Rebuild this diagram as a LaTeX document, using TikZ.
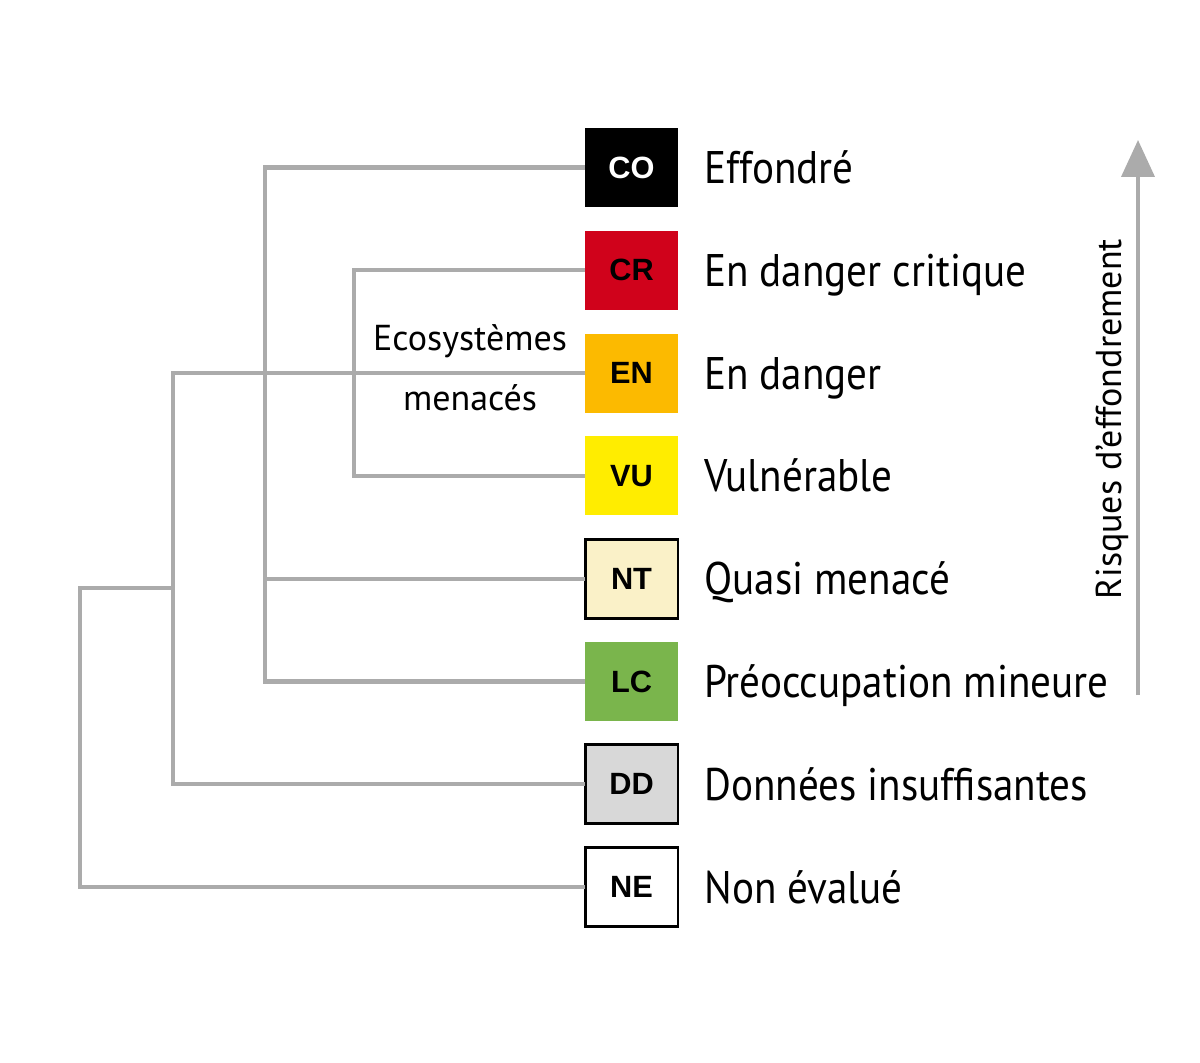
\documentclass[tikz,border=0pt]{standalone}
\usepackage{fontspec}
\setmainfont{PT Sans}
\newfontfamily\labelfont[FakeStretch=0.9]{PT Sans}
\newfontfamily\boxfont{Liberation Sans}
\usetikzlibrary{arrows.meta}
\definecolor{branchGray}{RGB}{171,171,171}
\definecolor{crRed}{RGB}{208,2,27}
\definecolor{enOrange}{RGB}{252,186,0}
\definecolor{vuYellow}{RGB}{255,237,0}
\definecolor{ntCream}{RGB}{250,241,200}
\definecolor{lcGreen}{RGB}{122,181,76}
\definecolor{ddGray}{RGB}{216,216,216}
\tikzstyle{redlist}=[%
	catBox/.style={%
		inner sep=0pt,
		outer sep=0pt,
		minimum width=1.86cm,
		minimum height=1.58cm,
		line width=1.7pt,
		font=\boxfont\bfseries\fontsize{17.5}{20}\selectfont
	},%
	catLabel/.style={%
		anchor=base west,
		inner sep=0pt,
		font=\labelfont\fontsize{26}{30}\selectfont
	},%
	branch/.style={%
		draw=branchGray,
		line width=2.3pt
	}
]

\begin{document}
\begin{tikzpicture}[
	x=0.02cm,
	y=-0.02cm,
	redlist
]
	\useasboundingbox [fill=white] (0,0) rectangle (1200,1062);

	% categories, top to bottom
	\foreach \code/\fillc/\drawc/\textc/\lbl [count=\i] in {
		CO/black/none/white/Effondré,
		CR/crRed/none/black/En danger critique,
		EN/enOrange/none/black/En danger,
		VU/vuYellow/none/black/Vulnérable,
		NT/ntCream/black/black/Quasi menacé,
		LC/lcGreen/none/black/Préoccupation mineure,
		DD/ddGray/black/black/Données insuffisantes,
		NE/white/black/black/Non évalué} {
		\node[catBox, fill=\fillc, draw=\drawc, text=\textc] (\code) at (631.5,{167.5+102.8*(\i-1)}) {\code};
		\node[catLabel] (\code-label) at (704,{183.5+102.8*(\i-1)}) {\lbl};
	}

	% tree
	\coordinate (evalHub) at (173,0);
	\coordinate (colHub) at (265,0);
	\coordinate (thrHub) at (354,0);
	\coordinate (root) at (80,588);

	\draw[branch] (CO.west) -- (CO.west -| colHub) |- (LC.west);
	\draw[branch] (NT.west) -- (NT.west -| colHub);
	\draw[branch] (CR.west) -- (CR.west -| thrHub) |- (VU.west);
	\draw[branch] (EN.west) -- (EN.west -| evalHub) |- (DD.west);
	\draw[branch] (root -| evalHub) -- (root) |- (NE.west);

	\node[align=center, font=\fontsize{20.5}{34}\selectfont] (threatened) at (470,368) {Ecosystèmes\\menacés};

	% risk axis
	\coordinate (riskBase) at (1138,695);
	\coordinate (riskTop) at (1138,140);
	\draw[branch, -{Triangle[width=18.7pt, length=21pt]}] (riskBase) -- (riskTop);
	\node[rotate=90, font=\fontsize{20.5}{24}\selectfont] (riskText) at (1112,419) {Risques d'effondrement};
\end{tikzpicture}
\end{document}
